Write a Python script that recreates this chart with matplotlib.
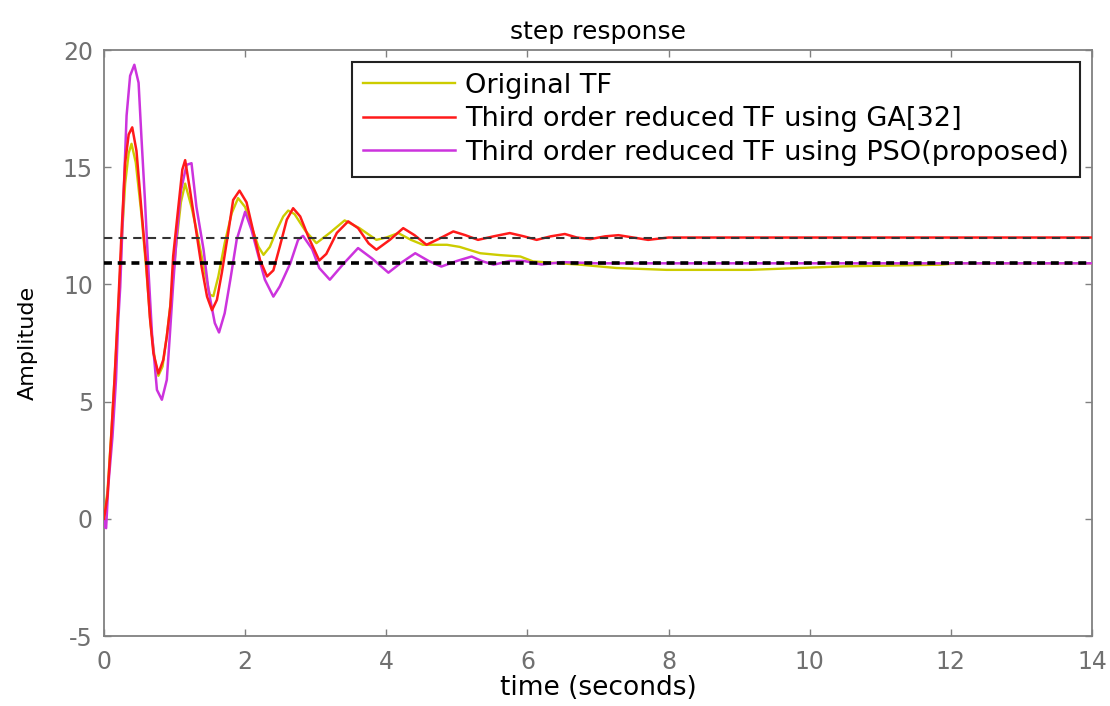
import matplotlib
matplotlib.use("Agg")
import matplotlib.pyplot as plt

plt.rcParams['font.family'] = ['DejaVu Sans']
plt.rcParams['axes.unicode_minus'] = False

# ---- data ----
t_orig = [0, 0.05, 0.1, 0.15, 0.2, 0.25, 0.3, 0.35, 0.39, 0.45, 0.53, 0.6, 0.66, 0.72, 0.77,
          0.83, 0.89, 0.95, 1.02, 1.09, 1.15, 1.24, 1.31, 1.41, 1.5, 1.55, 1.62, 1.71, 1.81,
          1.9, 2.0, 2.09, 2.19, 2.26, 2.35, 2.45, 2.54, 2.61, 2.7, 2.85, 3.01, 3.2, 3.41,
          3.62, 3.86, 4.0, 4.17, 4.35, 4.52, 4.86, 5.04, 5.33, 5.61, 5.9, 6.08, 6.75, 7.26,
          7.97, 9.15, 9.86, 10.48, 11.85, 12.1, 14]
y_orig = [0, 1.2, 3.5, 6.0, 8.8, 11.8, 14.3, 15.6, 16.0, 15.2, 13.0, 10.6, 8.3, 6.8, 6.1,
          6.5, 7.8, 9.4, 11.6, 13.5, 14.3, 13.3, 12.33, 10.8, 9.56, 9.5, 10.34, 11.76, 13.04,
          13.68, 13.3, 12.47, 11.6, 11.26, 11.6, 12.33, 12.9, 13.15, 13.0, 12.3, 11.76, 12.2, 12.73,
          12.4, 11.9, 12.0, 12.19, 11.9, 11.69, 11.69, 11.6, 11.33, 11.25, 11.19, 10.98, 10.84, 10.7,
          10.62, 10.62, 10.7, 10.77, 10.84, 10.9, 10.9]

t_ga = [0, 0.05, 0.1, 0.15, 0.2, 0.25, 0.3, 0.35, 0.40, 0.46, 0.53, 0.6, 0.65, 0.7, 0.77,
        0.84, 0.89, 0.94, 0.98, 1.05, 1.11, 1.15, 1.22, 1.29, 1.38, 1.46, 1.53, 1.6, 1.67,
        1.76, 1.83, 1.92, 2.02, 2.12, 2.21, 2.31, 2.4, 2.49, 2.59, 2.68, 2.78, 2.9, 3.05,
        3.15, 3.3, 3.46, 3.6, 3.75, 3.86, 4.05, 4.24, 4.4, 4.57, 4.75, 4.95, 5.12, 5.30,
        5.52, 5.75, 5.95, 6.13, 6.33, 6.53, 6.7, 6.89, 7.1, 7.29, 7.5, 7.71, 8.0, 14]
y_ga = [0, 1.0, 3.4, 6.0, 9.0, 12.3, 15.2, 16.4, 16.7, 15.7, 13.2, 10.8, 8.6, 7.07, 6.2,
        6.78, 7.78, 9.06, 11.2, 13.2, 14.9, 15.3, 14.0, 12.6, 10.8, 9.48, 8.9, 9.34, 10.5,
        12.2, 13.6, 14.0, 13.5, 12.2, 11.05, 10.34, 10.6, 11.6, 12.76, 13.25, 12.9, 12.0, 11.02,
        11.3, 12.2, 12.69, 12.4, 11.75, 11.48, 11.9, 12.4, 12.1, 11.69, 11.95, 12.26, 12.1, 11.9,
        12.05, 12.19, 12.05, 11.9, 12.05, 12.15, 12.0, 11.93, 12.05, 12.1, 12.0, 11.9, 12.0, 12.0]

t_pso = [0, 0.01, 0.03, 0.06, 0.12, 0.17, 0.2, 0.23, 0.27, 0.32, 0.37, 0.43, 0.49, 0.53, 0.58,
         0.63, 0.68, 0.75, 0.82, 0.89, 0.93, 0.98, 1.03, 1.09, 1.17, 1.24, 1.31, 1.41, 1.48,
         1.57, 1.63, 1.71, 1.79, 1.88, 2.0, 2.09, 2.19, 2.28, 2.4, 2.49, 2.64, 2.75, 2.82,
         2.95, 3.05, 3.2, 3.4, 3.60, 3.8, 4.03, 4.2, 4.41, 4.6, 4.78, 5.0, 5.21, 5.35, 5.52,
         5.75, 5.95, 6.2, 6.5, 7.0, 14]
y_pso = [0, -0.33, -0.4, 1.38, 3.5, 5.93, 8.35, 9.9, 13.2, 17.2, 18.9, 19.37, 18.6, 16.3, 13.6,
         10.6, 7.9, 5.5, 5.08, 5.93, 7.7, 10.0, 12.04, 14.0, 15.1, 15.17, 13.3, 11.5, 9.77,
         8.35, 7.95, 8.77, 10.2, 11.9, 13.1, 12.33, 11.19, 10.2, 9.48, 9.91, 10.9, 11.9, 12.07,
         11.5, 10.7, 10.2, 10.9, 11.55, 11.1, 10.5, 10.9, 11.33, 11.0, 10.76, 11.0, 11.19, 11.0, 10.84,
         11.0, 11.0, 10.85, 10.95, 10.9, 10.9]

steady_ga = 12.0
steady_pso = 10.9

labels = ["Original TF", "Third order reduced TF using GA[32]",
          "Third order reduced TF using PSO(proposed)"]
xticks = [0, 2, 4, 6, 8, 10, 12, 14]
yticks = [-5, 0, 5, 10, 15, 20]

# ---- figure ----
fig = plt.figure(figsize=(11.10, 7.06), dpi=100)
ax = fig.add_axes([104/1110, 1 - 636/706, 988/1110, 586/706])

ax.plot(t_orig, y_orig, color='#cccc00', lw=1.7, label=labels[0], zorder=3)
ax.plot(t_ga, y_ga, color='#ff1a1a', lw=1.8, label=labels[1], zorder=4)
ax.plot(t_pso, y_pso, color='#cc33dd', lw=1.8, label=labels[2], zorder=3)

ax.axhline(steady_ga, color='#333333', lw=1.5, ls=(0, (4, 3)), zorder=5)
ax.axhline(steady_pso, color='black', lw=2.6, ls=(0, (2.2, 1.6)), zorder=5)

ax.set_xlim(0, 14)
ax.set_ylim(-5, 20)
ax.set_xticks(xticks)
ax.set_yticks(yticks)
ax.tick_params(direction='in', top=True, right=True, length=5, width=1,
               colors='#808080', labelcolor='#707070', labelsize=17)
ax.tick_params(axis='y', pad=8)
ax.tick_params(axis='x', pad=10)
for s in ax.spines.values():
    s.set_color('#808080')
    s.set_linewidth(1.3)

ax.set_title("step response", fontsize=18, pad=8)
ax.set_xlabel("time (seconds)", fontsize=19, labelpad=1)
ax.set_ylabel("Amplitude", fontsize=16, labelpad=18)

leg = ax.legend(loc='upper right', bbox_to_anchor=(0.988, 0.98), fontsize=19.5,
                handlelength=3.4, handletextpad=0.4, labelspacing=0.28,
                borderpad=0.4, borderaxespad=0, frameon=True, fancybox=False,
                framealpha=1, edgecolor='#222222')
leg.get_frame().set_linewidth(1.5)

fig.savefig("out.png", dpi=100)
